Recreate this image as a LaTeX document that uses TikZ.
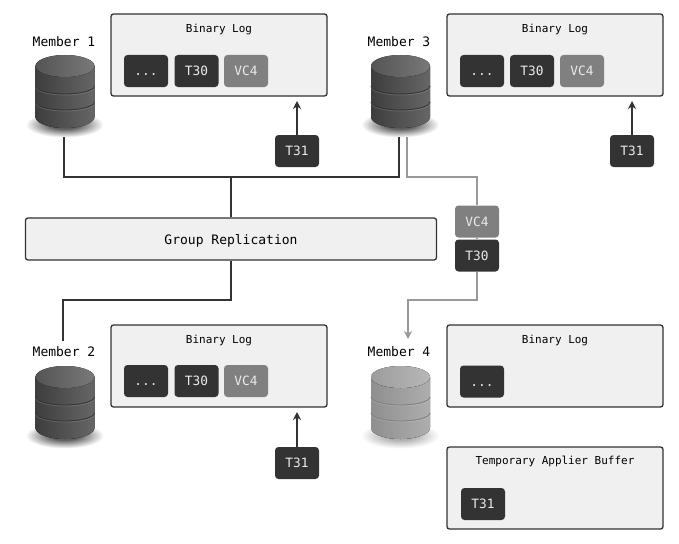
\documentclass[tikz,border=0pt]{standalone}
\usepackage{fontspec}
\setmainfont{DejaVu Sans Mono}
\usepackage{xcolor}
\definecolor{chipdark}{rgb}{0.2,0.2,0.2}
\definecolor{chipgray}{rgb}{0.5,0.5,0.5}
\definecolor{boxfill}{rgb}{0.94,0.94,0.94}
\definecolor{wiregray}{rgb}{0.6,0.6,0.6}
\definecolor{dbleft}{rgb}{0.24,0.24,0.24}
\definecolor{dbright}{rgb}{0.40,0.40,0.40}
\definecolor{dbband}{rgb}{0.2,0.2,0.2}
\definecolor{paleleft}{rgb}{0.56,0.56,0.56}
\definecolor{paleright}{rgb}{0.68,0.68,0.68}
\definecolor{paleband}{rgb}{0.5,0.5,0.5}
\usetikzlibrary{arrows.meta}
\usetikzlibrary{positioning}
\usetikzlibrary{calc}

\tikzset{
  logbox/.style={draw=chipdark, fill=boxfill, line width=1.3pt, rounded corners=2.5pt, minimum width=216pt, minimum height=82pt, inner sep=0pt, text height=10pt, text depth=0pt},
  chip/.style={fill=chipdark, text=white!92!black, rounded corners=3.5pt, minimum width=44pt, minimum height=32pt, inner sep=0pt, text height=9.5pt, text depth=0pt, font=\fontsize{12.8}{14}\selectfont},
  vchip/.style={chip, fill=chipgray},
  boxlabel/.style={inner sep=0pt, text height=8.5pt, text depth=0pt, font=\fontsize{11}{13}\selectfont},
  memberlabel/.style={inner sep=0pt, text height=9.5pt, text depth=0pt, font=\fontsize{13}{15}\selectfont},
  wire/.style={draw=chipdark, line width=1.4pt},
  graywire/.style={draw=wiregray, line width=1.4pt},
  tip/.style={-{Stealth[length=8pt,width=8pt,inset=2.5pt]}},
}

% #1 name, #2 x, #3 top y, #4 left colour, #5 right colour, #6 band line, #7 shadow strength
\newcommand{\dbstack}[7]{
  \foreach \k [evaluate=\k as \tone using \k*#7] in {1,...,14}
    \fill[black!\tone] (#2,#3+70) ellipse ({40-1.8*\k} and {13-0.6*\k});
  \fill[left color=#4, right color=#5] (#2-29.5,#3+11) -- (#2-29.5,#3+62) arc[start angle=180, end angle=0, x radius=29.5, y radius=11] -- (#2+29.5,#3+11) -- cycle;
  \draw[#6, line width=0.9pt] (#2-29.5,#3+31) arc[start angle=180, end angle=0, x radius=29.5, y radius=8];
  \draw[#6, line width=0.9pt] (#2-29.5,#3+47) arc[start angle=180, end angle=0, x radius=29.5, y radius=8];
  \draw[white, opacity=0.15, line width=0.8pt] (#2-29.5,#3+32) arc[start angle=180, end angle=0, x radius=29.5, y radius=8];
  \draw[white, opacity=0.15, line width=0.8pt] (#2-29.5,#3+48) arc[start angle=180, end angle=0, x radius=29.5, y radius=8];
  \fill[left color=#4!88!white, right color=#5!88!white] (#2,#3+11) ellipse (29.5 and 11);
  \node[minimum width=59pt, minimum height=74pt, inner sep=0pt] (#1) at (#2,#3+37) {};
}

\begin{document}
\begin{tikzpicture}[x=1pt, y=-1pt]
  \useasboundingbox[fill=white] (0,0) rectangle (679,543);

  % Member 1
  \node[memberlabel] (label1) at (64,41.5) {Member 1};
  \dbstack{db1}{65}{55}{dbleft}{dbright}{dbband}{4.5}
  \node[logbox] (log1) at (219,55) {};
  \node[boxlabel] (title1) at (219,28) {Binary Log};
  \node[chip] (dots1) at (146,71) {...};
  \node[chip] (tthirty1) at (196.5,71) {T30};
  \node[vchip] (vc1) at (246,71) {VC4};
  \node[chip] (tnew1) at (297,151) {T31};
  \coordinate (aim1) at (297,101);
  \draw[wire, tip] (tnew1) -- (aim1);

  % Member 3
  \node[memberlabel] (label3) at (399,41.5) {Member 3};
  \dbstack{db3}{400.5}{55}{dbleft}{dbright}{dbband}{4.5}
  \node[logbox] (log3) at (555,55) {};
  \node[boxlabel] (title3) at (555,28) {Binary Log};
  \node[chip] (dots3) at (482,71) {...};
  \node[chip] (tthirty3) at (532,71) {T30};
  \node[vchip] (vc3) at (582,71) {VC4};
  \node[chip] (tnew3) at (632,151) {T31};
  \coordinate (aim3) at (632,101);
  \draw[wire, tip] (tnew3) -- (aim3);

  % Group Replication
  \node[logbox, minimum width=411pt, minimum height=42pt, font=\fontsize{13}{15}\selectfont] (group) at (231,239) {Group Replication};
  \coordinate (tap1) at (64,137);
  \coordinate (tap3) at (399,137);
  \coordinate (joint) at (231,177);
  \draw[wire] (tap1) |- (joint) -| (tap3);
  \draw[wire] (joint) -- (group);

  % Member 2
  \node[memberlabel] (label2) at (64,352) {Member 2};
  \dbstack{db2}{65}{366}{dbleft}{dbright}{dbband}{4.5}
  \node[logbox] (log2) at (219,366) {};
  \node[boxlabel] (title2) at (219,339) {Binary Log};
  \node[chip] (dots2) at (146,381) {...};
  \node[chip] (tthirty2) at (196.5,381) {T30};
  \node[vchip] (vc2) at (246,381) {VC4};
  \node[chip] (tnew2) at (297,463) {T31};
  \coordinate (aim2) at (297,412);
  \draw[wire, tip] (tnew2) -- (aim2);
  \coordinate (tap2) at (63,341);
  \coordinate (bend2) at (63,300);
  \draw[wire] (group) |- (bend2) -- (tap2);

  % Member 4
  \node[memberlabel] (label4) at (399,352) {Member 4};
  \dbstack{db4}{400.5}{366}{paleleft}{paleright}{paleband}{2.2}
  \node[logbox] (log4) at (555,366) {};
  \node[boxlabel] (title4) at (555,339) {Binary Log};
  \node[chip] (dots4) at (482,381.5) {...};
  \node[logbox] (buffer) at (555,488) {};
  \node[boxlabel] (title5) at (555,460) {Temporary Applier Buffer};
  \node[chip] (tnew4) at (483,504) {T31};

  % In flight
  \node[vchip] (vcmove) at (477,221.5) {VC4};
  \node[chip] (tmove) at (477,255.5) {T30};
  \coordinate (tapgray) at (407,137);
  \coordinate (bendgray) at (477,177);
  \coordinate (bendlow) at (408,300);
  \coordinate (aim4) at (408,339);
  \draw[graywire] (tapgray) |- (bendgray) -- (vcmove);
  \draw[graywire] (vcmove) -- (tmove);
  \draw[graywire, tip] (tmove) |- (bendlow) -- (aim4);
\end{tikzpicture}
\end{document}
